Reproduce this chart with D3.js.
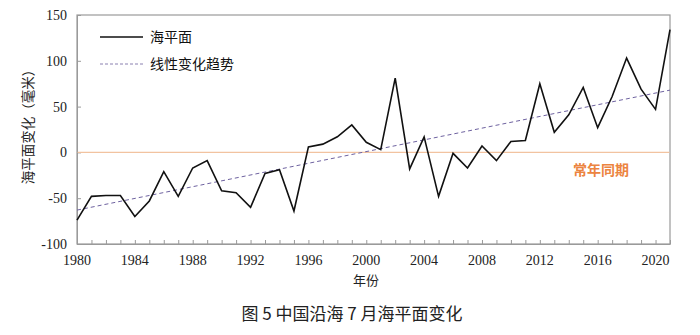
<!DOCTYPE html>
<html><head><meta charset="utf-8">
<script src="https://cdn.jsdelivr.net/npm/d3@7"></script>
<style>
html,body{margin:0;padding:0;background:#fff;}
svg{display:block;}
</style></head>
<body>
<svg id="chart" width="700" height="335"></svg>
<script>
const years = d3.range(1980, 2022);
const seaLevel = [-74, -48, -47, -47, -70, -53, -21, -48, -17, -9,
  -42, -44, -60, -23, -19, -64, 6, 9, 17, 30,
  11, 3, 81, -18, 17, -48, -1, -17, 7, -9,
  12, 13, 75, 22, 41, 71, 27, 61, 103, 69,
  47, 134];
const trendYears = [1980, 2021];
const trendValues = [-63, 68];
const yTicks = [-100, -50, 0, 50, 100, 150];
const xTickLabels = [1980, 1984, 1988, 1992, 1996, 2000, 2004, 2008, 2012, 2016, 2020];
const legendLabels = ["海平面", "线性变化趋势"];
const normalLabel = "常年同期";
const yTitle = "海平面变化（毫米）";
const xTitle = "年份";
const chartTitle = "图 5 中国沿海 7 月海平面变化";

const svg = d3.select("#chart");
const L = 77, R = 670, T = 15, B = 244;
const x = d3.scaleLinear().domain([1980, 2021]).range([L, R]);
const y = d3.scaleLinear().domain([-100, 150]).range([B, T]);
const cjk = "'Noto Sans CJK SC','Noto Sans',sans-serif";
const serifFont = "'Liberation Serif', 'DejaVu Serif', serif";
const frameColor = "#9a9a9a";

// frame
svg.append("rect").attr("x", L).attr("y", T).attr("width", R - L).attr("height", B - T)
  .attr("fill", "none").attr("stroke", frameColor).attr("stroke-width", 1.2);

// y axis (ticks only, labels drawn separately)
const yAxis = svg.append("g").attr("transform", `translate(${L},0)`)
  .call(d3.axisLeft(y).tickValues(yTicks).tickSizeInner(-4).tickSizeOuter(0).tickFormat(""));
yAxis.select(".domain").attr("stroke", frameColor);
yAxis.selectAll(".tick line").attr("stroke", frameColor);
svg.append("g").selectAll("text").data(yTicks).join("text")
  .attr("x", L - 10).attr("y", d => y(d)).attr("dy", "0.35em").attr("text-anchor", "end")
  .attr("font-family", serifFont).attr("font-size", 14).attr("fill", "#222")
  .text(d => d);

// x axis
const xAxis = svg.append("g").attr("transform", `translate(0,${B})`)
  .call(d3.axisBottom(x).tickValues(years).tickSizeInner(-4).tickSizeOuter(0).tickFormat(""));
xAxis.select(".domain").attr("stroke", frameColor);
xAxis.selectAll(".tick line").attr("stroke", frameColor);
svg.append("g").selectAll("text").data(xTickLabels).join("text")
  .attr("x", d => x(d)).attr("y", B + 16).attr("dy", "0.35em").attr("text-anchor", "middle")
  .attr("font-family", serifFont).attr("font-size", 14).attr("fill", "#222")
  .text(d => d);

// zero reference line
svg.append("line").attr("x1", L + 0.6).attr("x2", R - 0.6).attr("y1", y(0)).attr("y2", y(0))
  .attr("stroke", "#f2c3a0").attr("stroke-width", 1.3);

// trend line
svg.append("line")
  .attr("x1", x(trendYears[0])).attr("y1", y(trendValues[0]))
  .attr("x2", x(trendYears[1])).attr("y2", y(trendValues[1]))
  .attr("stroke", "#6e62a0").attr("stroke-width", 1).attr("stroke-dasharray", "4,3");

// sea level line
const line = d3.line().x((d, i) => x(years[i])).y(d => y(d));
svg.append("path").datum(seaLevel).attr("d", line)
  .attr("fill", "none").attr("stroke", "#111").attr("stroke-width", 1.6)
  .attr("stroke-linejoin", "miter");

// legend
const lg = svg.append("g");
lg.append("line").attr("x1", 100).attr("x2", 143).attr("y1", 37).attr("y2", 37)
  .attr("stroke", "#111").attr("stroke-width", 1.5);
lg.append("text").attr("x", 150).attr("y", 37).attr("dy", "0.35em")
  .attr("font-family", cjk).attr("font-size", 14).attr("fill", "#111").text(legendLabels[0]);
lg.append("line").attr("x1", 100).attr("x2", 143).attr("y1", 64).attr("y2", 64)
  .attr("stroke", "#8a80b0").attr("stroke-width", 1).attr("stroke-dasharray", "3,2");
lg.append("text").attr("x", 150).attr("y", 64).attr("dy", "0.35em")
  .attr("font-family", cjk).attr("font-size", 14).attr("fill", "#111").text(legendLabels[1]);

// normal label
svg.append("text").attr("x", 601).attr("y", 170).attr("dy", "0.35em").attr("text-anchor", "middle")
  .attr("font-family", cjk).attr("font-size", 14).attr("font-weight", "bold")
  .attr("fill", "#ec8440").text(normalLabel);

// axis titles
svg.append("text").attr("transform", `translate(28,${(T + B) / 2 - 6}) rotate(-90)`)
  .attr("text-anchor", "middle").attr("dy", "0.35em")
  .attr("font-family", cjk).attr("font-size", 13.5).attr("fill", "#222").text(yTitle);
svg.append("text").attr("x", 366).attr("y", 280).attr("dy", "0.35em").attr("text-anchor", "middle")
  .attr("font-family", cjk).attr("font-size", 13).attr("fill", "#222").text(xTitle);
svg.append("text").attr("x", 352).attr("y", 314).attr("dy", "0.35em").attr("text-anchor", "middle")
  .attr("font-family", cjk).attr("font-size", 17).attr("font-weight", "normal").attr("fill", "#222").text(chartTitle);
</script>
</body></html>
